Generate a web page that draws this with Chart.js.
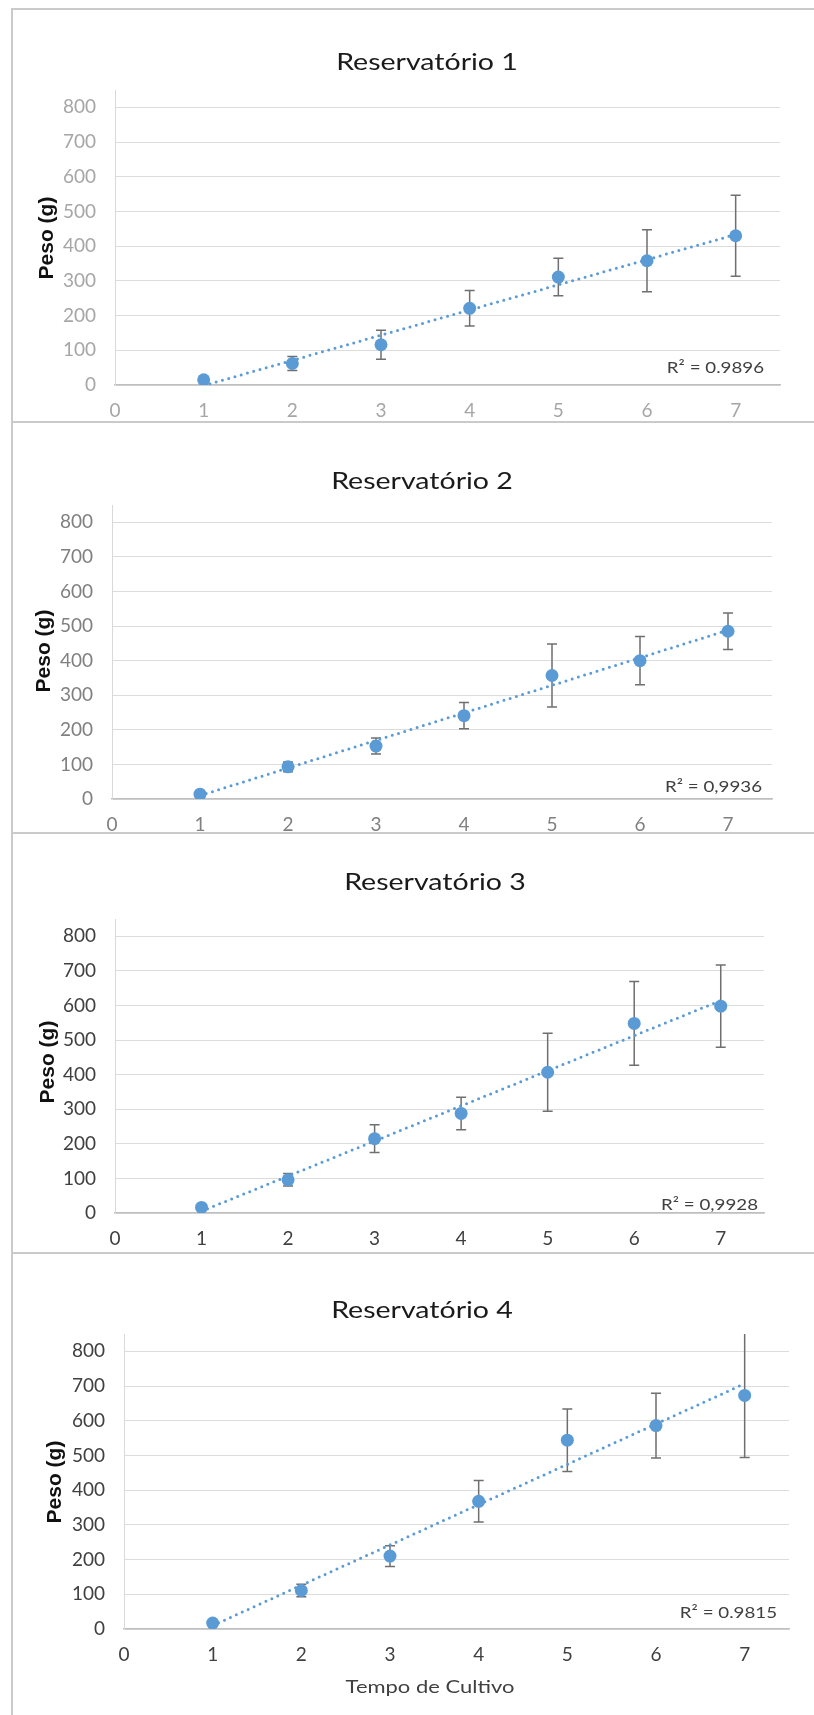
<!DOCTYPE html>
<html>
<head>
<meta charset="utf-8">
<script src="https://cdn.jsdelivr.net/npm/chart.js@4.4.0/dist/chart.umd.min.js"></script>
<style>
  body { margin: 0; background: #fff; width: 814px; height: 1715px; overflow: hidden; position: relative; }
  .painel { position: absolute; left: 11px; width: 900px; border-top: 2px solid #cacaca; border-left: 2px solid #cacaca; box-sizing: border-box; }
  canvas { position: absolute; left: 0; }
</style>
</head>
<body>
<div class="painel" style="top:8px;height:413px"></div>
<div class="painel" style="top:421px;height:411px"></div>
<div class="painel" style="top:832px;height:420px"></div>
<div class="painel" style="top:1252px;height:470px"></div>
<canvas id="r1" width="814" height="430" style="top:8px"></canvas>
<canvas id="r2" width="814" height="430" style="top:421px"></canvas>
<canvas id="r3" width="814" height="430" style="top:832px"></canvas>
<canvas id="r4" width="814" height="463" style="top:1252px"></canvas>
<script>
// dados
const dias = [1, 2, 3, 4, 5, 6, 7];
const eixoX = [0, 1, 2, 3, 4, 5, 6, 7];
const eixoY = [0, 100, 200, 300, 400, 500, 600, 700, 800];

const peso1 = [15, 62, 116, 221, 311, 358, 430];
const erro1 = [4, 20, 42, 51, 54, 89, 117];
const peso2 = [14, 93, 153, 241, 357, 400, 485];
const erro2 = [4, 14, 23, 38, 91, 70, 53];
const peso3 = [16, 96, 215, 288, 407, 548, 598];
const erro3 = [4, 18, 40, 47, 113, 121, 119];
const peso4 = [17, 111, 210, 368, 544, 586, 673];
const erro4 = [4, 18, 30, 60, 90, 93, 179];

const titulos = ['Reservatório 1', 'Reservatório 2', 'Reservatório 3', 'Reservatório 4'];
const r2 = ['R² = 0.9896', 'R² = 0,9936', 'R² = 0,9928', 'R² = 0.9815'];

// posicoes de cada painel (px dentro do canvas)
const paineis = [
  { id: 'r1', peso: peso1, erro: erro1, top: 82, bottom: 377, left: 115, right: 780, tx: 427, ty: 62, yx: 47, ry: 365, rx: 764, cor: '#a6a6a6' },
  { id: 'r2', peso: peso2, erro: erro2, top: 84, bottom: 378, left: 112, right: 772, tx: 422, ty: 68, yx: 44, ry: 371, rx: 762, cor: '#808080' },
  { id: 'r3', peso: peso3, erro: erro3, top: 87, bottom: 381, left: 115, right: 764, tx: 435, ty: 58, yx: 48, ry: 378, rx: 758, cor: '#404040' },
  { id: 'r4', peso: peso4, erro: erro4, top: 82, bottom: 377, left: 124, right: 789, tx: 422, ty: 66, yx: 55, ry: 366, rx: 777, cor: '#404040', xt: 'Tempo de Cultivo' }
];

const fonte = 'Lato, Carlito, "Open Sans", sans-serif';

// linha de tendencia (minimos quadrados)
function tendencia(xs, ys) {
  const n = xs.length;
  const mx = xs.reduce((a, b) => a + b, 0) / n;
  const my = ys.reduce((a, b) => a + b, 0) / n;
  let sxy = 0, sxx = 0;
  xs.forEach((x, i) => { sxy += (x - mx) * (ys[i] - my); sxx += (x - mx) * (x - mx); });
  const b = sxy / sxx;
  const a = my - b * mx;
  return [{ x: xs[0], y: a + b * xs[0] }, { x: xs[n - 1], y: a + b * xs[n - 1] }];
}

const barrasErro = {
  id: 'barrasErro',
  beforeDatasetsDraw(chart, args, opts) {
    const { ctx, chartArea, scales: { x, y } } = chart;
    ctx.save();
    ctx.beginPath();
    ctx.rect(chartArea.left, chartArea.top, chartArea.width, chartArea.height + 2);
    ctx.clip();
    ctx.strokeStyle = '#6f6f6f';
    ctx.lineWidth = 1.5;
    opts.peso.forEach((v, i) => {
      const px = x.getPixelForValue(dias[i]);
      const cima = y.getPixelForValue(v + opts.erro[i]);
      const baixo = y.getPixelForValue(v - opts.erro[i]);
      ctx.beginPath();
      ctx.moveTo(px, cima); ctx.lineTo(px, baixo);
      ctx.moveTo(px - 5, cima); ctx.lineTo(px + 5, cima);
      ctx.moveTo(px - 5, baixo); ctx.lineTo(px + 5, baixo);
      ctx.stroke();
    });
    ctx.restore();
  }
};

// texto esticado na horizontal, como no original
function escrever(ctx, s, x, y, esc) {
  ctx.save();
  ctx.translate(x, y);
  ctx.scale(esc, 1);
  ctx.fillText(s, 0, 0);
  ctx.restore();
}

const textos = {
  id: 'textos',
  afterDraw(chart, args, p) {
    const ctx = chart.ctx;
    ctx.save();
    ctx.fillStyle = '#1a1a1a';
    ctx.textAlign = 'center';
    ctx.textBaseline = 'alphabetic';
    ctx.font = '23px ' + fonte;
    escrever(ctx, p.titulo, p.tx, p.ty, 1.24);

    ctx.fillStyle = '#404040';
    ctx.textAlign = 'right';
    ctx.font = '16px ' + fonte;
    escrever(ctx, p.r2, p.rx, p.ry, 1.17);

    if (p.xt) {
      ctx.textAlign = 'center';
      ctx.font = '18px ' + fonte;
      escrever(ctx, p.xt, 430, 441, 1.22);
    }

    ctx.translate(p.yx, 230);
    ctx.rotate(-Math.PI / 2);
    ctx.textAlign = 'center';
    ctx.textBaseline = 'middle';
    ctx.fillStyle = '#111';
    ctx.font = 'bold 21px "Liberation Sans", Arial, sans-serif';
    ctx.fillText('Peso (g)', 0, 0);
    ctx.restore();
  }
};

paineis.forEach((p, k) => {
  const canvas = document.getElementById(p.id);
  const H = canvas.height;
  new Chart(canvas, {
    data: {
      datasets: [
        {
          type: 'line',
          data: tendencia(dias, p.peso),
          borderColor: '#5B9BD5',
          borderWidth: 3,
          borderDash: [0, 6.5],
          borderCapStyle: 'round',
          pointRadius: 0,
          fill: false
        },
        {
          type: 'scatter',
          data: dias.map((d, i) => ({ x: d, y: p.peso[i] })),
          backgroundColor: '#5B9BD5',
          borderColor: '#5B9BD5',
          pointRadius: 6.5,
          pointBorderWidth: 0
        }
      ]
    },
    options: {
      responsive: false,
      animation: false,
      events: [],
      layout: { padding: { top: p.top, left: 0, right: 814 - p.right, bottom: 0 } },
      scales: {
        x: {
          type: 'linear',
          min: 0,
          max: 7.5,
          afterFit: s => { s.height = H - p.bottom; },
          afterBuildTicks: s => { s.ticks = eixoX.map(v => ({ value: v })); },
          grid: { display: false },
          border: { display: true, color: '#bfbfbf', width: 1.5 },
          ticks: { color: p.cor, font: { family: fonte, size: 19 }, padding: 6, maxRotation: 0 }
        },
        y: {
          min: 0,
          max: 850,
          afterFit: s => { s.width = p.left; },
          afterBuildTicks: s => { s.ticks = eixoY.map(v => ({ value: v })); },
          grid: { color: '#dcdcdc', lineWidth: 1, drawTicks: false },
          border: { display: true, color: '#d9d9d9', width: 1 },
          ticks: { color: p.cor, font: { family: fonte, size: 19 }, padding: 19 }
        }
      },
      plugins: {
        legend: { display: false },
        tooltip: { enabled: false },
        barrasErro: { peso: p.peso, erro: p.erro },
        textos: { titulo: titulos[k], r2: r2[k], tx: p.tx, ty: p.ty, yx: p.yx, rx: p.rx, ry: p.ry, xt: p.xt }
      }
    },
    plugins: [barrasErro, textos]
  });
});
</script>
</body>
</html>
